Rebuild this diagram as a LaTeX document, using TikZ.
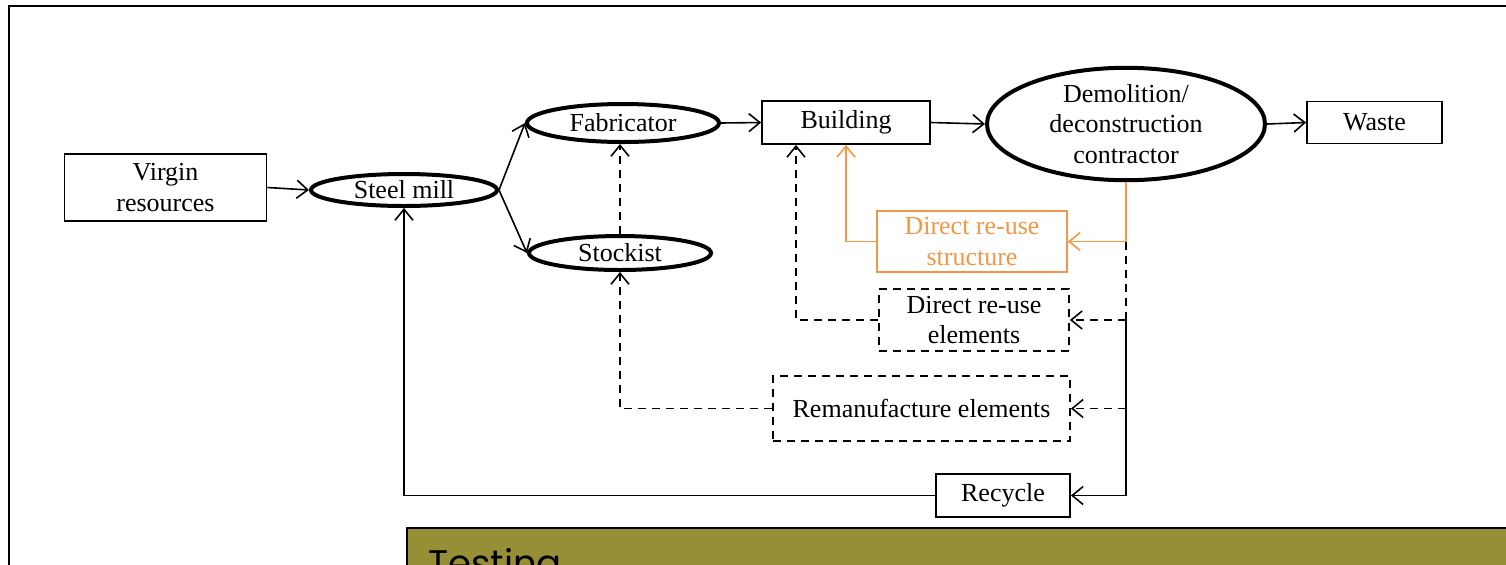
\documentclass[tikz,border=0pt]{standalone}
\usepackage{fontspec}
\setmainfont{Liberation Serif}
\newfontfamily\testfont{Poppins}
\usetikzlibrary{arrows.meta,shapes.geometric,calc}
\definecolor{reuseorange}{RGB}{243,150,72}
\definecolor{olivebg}{RGB}{151,143,53}
\tikzset{
  lbl/.style={font=\fontsize{13}{15.3}\selectfont, align=center, inner sep=0pt},
  boxnode/.style={lbl, draw, line width=0.9pt, rectangle},
  ovalnode/.style={lbl, draw, line width=2pt, ellipse},
  dashbox/.style={boxnode, dash pattern=on 4pt off 3pt},
  orangebox/.style={boxnode, draw=reuseorange, text=reuseorange},
  conn/.style={line width=0.8pt, -{Straight Barb[length=5.5pt,width=9pt,line width=0.8pt]}},
  plainline/.style={line width=0.8pt},
  dashconn/.style={conn, dash pattern=on 4pt off 3pt},
  dashline/.style={plainline, dash pattern=on 4pt off 3pt},
  orangeconn/.style={conn, draw=reuseorange, line width=0.95pt},
  orangeline/.style={plainline, draw=reuseorange, line width=0.95pt}
}
\begin{document}
\begin{tikzpicture}[x=0.5pt,y=-0.5pt]
\useasboundingbox (0,0) rectangle (1506,564);
\clip (0,0) rectangle (1506,564);
% outer frame
\draw[line width=1.25pt] (9,600) -- (9,6) -- (1530,6);

% nodes
\node[boxnode, minimum width=101pt, minimum height=33.5pt] (virgin) at (165.5,187.5) {Virgin\\resources};
\node[ovalnode, minimum width=93pt, minimum height=16pt] (steel) at (404,190) {Steel mill};
\node[ovalnode, minimum width=96pt, minimum height=19pt] (fab) at (623,123) {Fabricator};
\node[ovalnode, minimum width=91pt, minimum height=17pt] (stock) at (620,253) {Stockist};
\node[boxnode, minimum width=84pt, minimum height=21.5pt] (building) at (846,122.5) {Building};
\node[ovalnode, minimum width=139pt, minimum height=49pt] (demo) at (1126,124) {Demolition/\\deconstruction\\contractor};
\node[boxnode, minimum width=67.5pt, minimum height=21pt] (waste) at (1374.5,122.5) {Waste};
\node[orangebox, minimum width=95pt, minimum height=30.5pt] (rstruct) at (972,241.5) {Direct re-use\\structure};
\node[dashbox, minimum width=95pt, minimum height=31pt] (relem) at (974,320) {Direct re-use\\elements};
\node[dashbox, minimum width=148.5pt, minimum height=32.5pt] (reman) at (921.5,408.5) {Remanufacture elements};
\node[boxnode, minimum width=67pt, minimum height=21.5pt] (recycle) at (1003,495.5) {Recycle};

% junction coordinates
\coordinate (j1) at (demo.south |- rstruct.east);
\coordinate (j2) at (demo.south |- relem.east);
\coordinate (j3) at (demo.south |- reman.east);
\coordinate (j4) at (demo.south |- recycle.east);
\coordinate (b1) at ($(building.south)+(-50,0)$);

% main flow
\draw[conn] (virgin.east) -- (steel.west);
\draw[conn] (steel.east) -- (fab.west);
\draw[conn] (steel.east) -- (stock.west);
\draw[conn] (fab.east) -- (building.west);
\draw[conn] (building.east) -- (demo.west);
\draw[conn] (demo.east) -- (waste.west);
\draw[dashconn] (stock.north) -- (stock.north |- fab.south);

% from contractor
\draw[orangeline] (demo.south) -- (j1);
\draw[orangeconn] (j1) -- (rstruct.east);
\draw[orangeconn] (rstruct.west) -| (building.south);
\draw[dashline] (j1) -- (j2);
\draw[plainline] (j2) -- (j4);
\draw[dashconn] (j2) -- (relem.east);
\draw[dashconn] (j3) -- (reman.east);
\draw[conn] (j4) -- (recycle.east);
\draw[dashconn] (relem.west) -| (b1);
\draw[dashconn] (reman.west) -| (stock.south);
\draw[conn] (recycle.west) -| (steel.south);

% bottom banner
\node[draw=black, fill=olivebg, line width=1pt, minimum width=600pt, minimum height=40pt, anchor=north west, inner sep=0pt] (banner) at (406,527) {};
\node[font=\testfont\fontsize{18.5}{21}\selectfont, anchor=base west, inner sep=0pt] (testing) at (428,576) {Testing};
\end{tikzpicture}
\end{document}
